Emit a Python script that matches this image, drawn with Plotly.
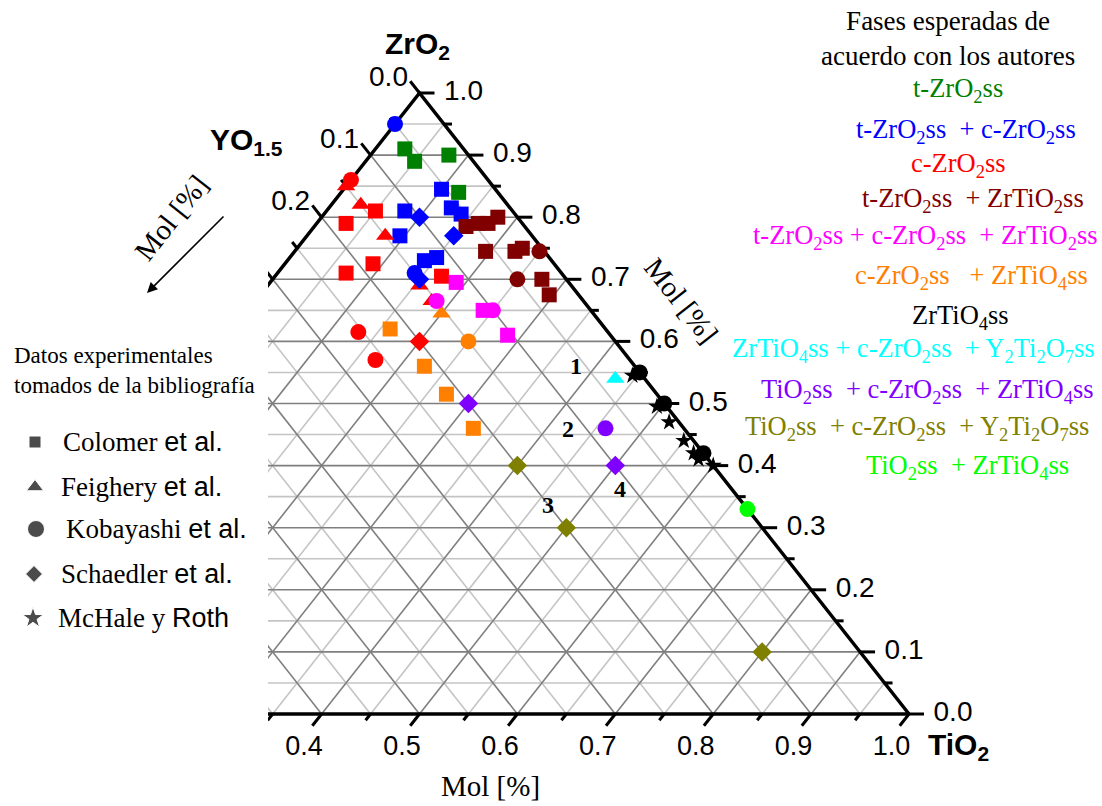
import numpy as np
import plotly.graph_objects as go

# ---------------- data: mole fractions (ZrO2, TiO2); YO1.5 = 1 - ZrO2 - TiO2 ----------------
# Colomer et al. (squares)
col_t_zr = [0.91, 0.89, 0.90, 0.84]
col_t_ti = [0.03, 0.05, 0.08, 0.12]
col_tc_zr = [0.845, 0.81, 0.77, 0.815, 0.805, 0.73, 0.735]
col_tc_ti = [0.10, 0.08, 0.095, 0.125, 0.14, 0.14, 0.15]
col_c_zr = [0.81, 0.79, 0.71, 0.725, 0.705]
col_c_ti = [0.05, 0.03, 0.07, 0.09, 0.17]
col_tzt_zr = [0.785, 0.79, 0.79, 0.80, 0.745, 0.745, 0.75, 0.70, 0.675]
col_tzt_ti = [0.155, 0.165, 0.175, 0.18, 0.195, 0.225, 0.23, 0.275, 0.295]
col_tczt_zr = [0.695, 0.65, 0.61]
col_tczt_ti = [0.19, 0.24, 0.285]
col_czt_zr = [0.62, 0.56, 0.515, 0.46]
col_czt_ti = [0.16, 0.225, 0.27, 0.325]

# Feighery et al. (triangles)
fei_c_zr = [0.85, 0.82, 0.77, 0.69, 0.665]
fei_c_ti = [0.0, 0.03, 0.08, 0.155, 0.18]
fei_czt_zr = [0.645]
fei_czt_ti = [0.20]
fei_zcy_zr = [0.54]
fei_zcy_ti = [0.43]

# Kobayashi et al. (circles)
kob_tc_zr = [0.95, 0.71]
kob_tc_ti = [0.0, 0.14]
kob_c_zr = [0.86, 0.615, 0.57]
kob_c_ti = [0.0, 0.13, 0.17]
kob_tzt_zr = [0.745, 0.70]
kob_tzt_ti = [0.25, 0.25]
kob_tczt_zr = [0.665, 0.65]
kob_tczt_ti = [0.185, 0.25]
kob_czt_zr = [0.60]
kob_czt_ti = [0.25]
kob_zt_zr = [0.55, 0.50, 0.42]
kob_zt_ti = [0.45, 0.50, 0.58]
kob_tcz_zr = [0.46]
kob_tcz_ti = [0.46]
kob_tz_zr = [0.33]
kob_tz_ti = [0.67]

# Schaedler et al. (diamonds)
sch_tc_zr = [0.80, 0.77, 0.70]
sch_tc_ti = [0.10, 0.15, 0.15]
sch_c_zr = [0.60]
sch_c_ti = [0.20]
sch_tcz_zr = [0.50, 0.40]
sch_tcz_ti = [0.30, 0.50]
sch_tcy_zr = [0.40, 0.30, 0.10]
sch_tcy_ti = [0.40, 0.50, 0.80]

# McHale y Roth (stars)
mch_zt_zr = [0.545, 0.495, 0.47, 0.44, 0.42, 0.41, 0.40]
mch_zt_ti = [0.445, 0.495, 0.52, 0.55, 0.57, 0.58, 0.60]

# axis ticks
major_vals = np.round(np.arange(0, 1.0001, 0.1), 2)
minor_vals = np.round(np.arange(0.05, 1.0, 0.1), 2)
tick_labels = [f"{v:.1f}" for v in major_vals]

# phase colours
C_T = "#008000"; C_TC = "#0000ff"; C_C = "#ff0000"; C_TZT = "#800000"
C_TCZT = "#ff00ff"; C_CZT = "#ff8000"; C_ZT = "#000000"; C_ZCY = "#00ffff"
C_TCZ = "#8000ff"; C_TCY = "#808000"; C_TZ = "#00ff00"

# ---------------- geometry of the drawing ----------------
W, H = 1102, 806
CX, BX = -70.0, 909.0          # pixel x of the YO1.5 and TiO2 corners
BASE_Y, APEX_Y = 714.0, 93.0   # pixel y of the base and of the ZrO2 apex
CLIP_X = 268.0                 # left edge of the diagram window
SPAN, HGT = BX - CX, BASE_Y - APEX_Y

SERIF = "Liberation Serif"
SANS = "Liberation Sans"


def to_xy(zr, ti):
    zr = np.asarray(zr, float)
    ti = np.asarray(ti, float)
    return ti + zr / 2.0, zr


def shift(x, y, dpx, dpy):
    """Offset a data point by a pixel displacement."""
    return x + dpx / SPAN, y - dpy / HGT


def px_of(x):
    return CX + SPAN * x


fig = go.Figure()

# ---------------- grid ----------------
def grid_segments(vals):
    xs, ys = [], []
    for v in vals:
        for (z0, t0), (z1, t1) in [((v, 0), (v, 1 - v)),          # constant ZrO2
                                   ((0, v), (1 - v, v)),          # constant TiO2
                                   ((0, 1 - v), (1 - v, 0))]:     # constant YO1.5
            x0, y0 = to_xy(z0, t0)
            x1, y1 = to_xy(z1, t1)
            xs += [float(x0), float(x1), None]
            ys += [float(y0), float(y1), None]
    return xs, ys


grid_minor = np.round(np.arange(0.05, 1.0, 0.1), 2)
grid_major = np.round(np.arange(0.1, 0.95, 0.1), 2)
for vals, col in [(grid_minor, "#c4c4c4"), (grid_major, "#7f7f7f")]:
    gx, gy = grid_segments(vals)
    fig.add_trace(go.Scatter(x=gx, y=gy, mode="lines", line=dict(color=col, width=1.6),
                             hoverinfo="skip", showlegend=False))

# ---------------- triangle frame ----------------
ex, ey = to_xy([0, 1, 0, 0], [0, 0, 1, 0])
fig.add_trace(go.Scatter(x=ex, y=ey, mode="lines", line=dict(color="black", width=3.5),
                         hoverinfo="skip", showlegend=False))

# ---------------- ticks ----------------
UL = (-0.619, -0.785)   # up-left, parallel to the right edge
DL = (-0.619, 0.785)    # down-left, parallel to the left edge
RT = (1.0, 0.0)


def tick_points(kind, v):
    if kind == "right":      # ZrO2 on the TiO2-ZrO2 edge
        return to_xy(v, 1 - v)
    if kind == "left":       # YO1.5 on the YO1.5-ZrO2 edge
        return to_xy(1 - v, 0)
    return to_xy(0, v)       # TiO2 on the base


tx, ty = [], []
for kind, d in [("right", RT), ("left", UL), ("bottom", DL)]:
    for vals, ln in [(major_vals, 15), (minor_vals, 8)]:
        for v in vals:
            x0, y0 = tick_points(kind, v)
            x1, y1 = shift(float(x0), float(y0), d[0] * ln, d[1] * ln)
            tx += [float(x0), x1, None]
            ty += [float(y0), y1, None]
fig.add_trace(go.Scatter(x=tx, y=ty, mode="lines", line=dict(color="black", width=3),
                         hoverinfo="skip", showlegend=False))

# tick labels (only those that fall inside the diagram window)
for kind, off, size in [("right", (44, 0), 28), ("left", (-31, -14), 28), ("bottom", (-17.5, 34), 27)]:
    lx, ly, lt = [], [], []
    for v, lab in zip(major_vals, tick_labels):
        x0, y0 = tick_points(kind, v)
        x1, y1 = shift(float(x0), float(y0), *off)
        if px_of(x1) - 21 < CLIP_X:
            continue
        lx.append(x1)
        ly.append(y1)
        lt.append(lab)
    fig.add_trace(go.Scatter(x=lx, y=ly, mode="text", text=lt,
                             textposition="middle center",
                             textfont=dict(family=SANS, size=size, color="black"),
                             hoverinfo="skip", showlegend=False))

# ---------------- experimental points ----------------
SQ, TR, CI, DI, ST = 15, 16, 16, 15, 13
groups = [
    # squares
    (col_t_zr, col_t_ti, "square", SQ, C_T),
    (col_tc_zr, col_tc_ti, "square", SQ, C_TC),
    (col_c_zr, col_c_ti, "square", SQ, C_C),
    (col_tzt_zr, col_tzt_ti, "square", SQ, C_TZT),
    (col_tczt_zr, col_tczt_ti, "square", SQ, C_TCZT),
    (col_czt_zr, col_czt_ti, "square", SQ, C_CZT),
    # triangles
    (fei_c_zr, fei_c_ti, "triangle-up", TR, C_C),
    (fei_czt_zr, fei_czt_ti, "triangle-up", TR, C_CZT),
    (fei_zcy_zr, fei_zcy_ti, "triangle-up", TR, C_ZCY),
    # circles
    (kob_tc_zr, kob_tc_ti, "circle", CI, C_TC),
    (kob_c_zr, kob_c_ti, "circle", CI, C_C),
    (kob_tzt_zr, kob_tzt_ti, "circle", CI, C_TZT),
    (kob_tczt_zr, kob_tczt_ti, "circle", CI, C_TCZT),
    (kob_czt_zr, kob_czt_ti, "circle", CI, C_CZT),
    (kob_zt_zr, kob_zt_ti, "circle", CI, C_ZT),
    (kob_tcz_zr, kob_tcz_ti, "circle", CI, C_TCZ),
    (kob_tz_zr, kob_tz_ti, "circle", CI, C_TZ),
    # diamonds
    (sch_tc_zr, sch_tc_ti, "diamond", DI, C_TC),
    (sch_c_zr, sch_c_ti, "diamond", DI, C_C),
    (sch_tcz_zr, sch_tcz_ti, "diamond", DI, C_TCZ),
    (sch_tcy_zr, sch_tcy_ti, "diamond", DI, C_TCY),
    # stars
    (mch_zt_zr, mch_zt_ti, "star", ST, C_ZT),
]
for zr, ti, sym, size, col in groups:
    x, y = to_xy(zr, ti)
    fig.add_trace(go.Scatter(x=x, y=y, mode="markers",
                             marker=dict(symbol=sym, size=size, color=col, line=dict(width=0)),
                             showlegend=False, hoverinfo="skip"))

# ---------------- legend of sources (left) ----------------
key_rows = [442, 487, 529, 574, 618]
key_symbols = ["square", "triangle-up", "circle", "diamond", "star"]
key_sizes = [12, 15, 17, 13, 16]
fig.add_trace(go.Scatter(x=[35, 35, 36, 34, 33], y=key_rows, mode="markers",
                         marker=dict(symbol=key_symbols, size=key_sizes, color="black"),
                         xaxis="x2", yaxis="y2", showlegend=False, hoverinfo="skip"))


def note(px, py, text, size, family=SERIF, color="black", angle=0, xanchor="center",
         align="center"):
    fig.add_annotation(x=px / W, y=1 - py / H, xref="paper", yref="paper", text=text,
                       showarrow=False, font=dict(family=family, size=size, color=color),
                       textangle=angle, xanchor=xanchor, yanchor="middle", align=align)


note(12, 370, "Datos experimentales<br>tomados de la bibliografía", 23, xanchor="left",
     align="left")
ETAL = f"<span style='font-family:{SANS}'>et al.</span>"
note(61, 442, f"Colomer {ETAL}", 27, xanchor="left")
note(59, 487, f"Feighery {ETAL}", 27, xanchor="left")
note(64, 529, f"Kobayashi {ETAL}", 27, xanchor="left")
note(59, 574, f"Schaedler {ETAL}", 27, xanchor="left")
note(56, 618, f"McHale y <span style='font-family:{SANS}'>Roth</span>", 27, xanchor="left")

# ---------------- expected phases (right) ----------------
note(948, 39, "Fases esperadas de<br>acuerdo con los autores", 27)
phase_lines = [
    (958, 90, "t-ZrO<sub>2</sub>ss", C_T),
    (966, 131, "t-ZrO<sub>2</sub>ss  + c-ZrO<sub>2</sub>ss", C_TC),
    (958, 165, "c-ZrO<sub>2</sub>ss", C_C),
    (973, 200, "t-ZrO<sub>2</sub>ss  + ZrTiO<sub>2</sub>ss", C_TZT),
    (925, 237, "t-ZrO<sub>2</sub>ss + c-ZrO<sub>2</sub>ss  + ZrTiO<sub>2</sub>ss", C_TCZT),
    (971, 277, "c-ZrO<sub>2</sub>ss   + ZrTiO<sub>4</sub>ss", C_CZT),
    (960, 317, "ZrTiO<sub>4</sub>ss", C_ZT),
    (913, 350, "ZrTiO<sub>4</sub>ss + c-ZrO<sub>2</sub>ss  + Y<sub>2</sub>Ti<sub>2</sub>O<sub>7</sub>ss", C_ZCY),
    (927, 391, "TiO<sub>2</sub>ss  + c-ZrO<sub>2</sub>ss  + ZrTiO<sub>4</sub>ss", C_TCZ),
    (917, 428, "TiO<sub>2</sub>ss  + c-ZrO<sub>2</sub>ss  + Y<sub>2</sub>Ti<sub>2</sub>O<sub>7</sub>ss", C_TCY),
    (967, 467, "TiO<sub>2</sub>ss  + ZrTiO<sub>4</sub>ss", C_TZ),
]
for px, py, txt, col in phase_lines:
    note(px, py, txt, 26.5, color=col)

# ---------------- axis titles and region numbers ----------------
note(417, 45, "<b>ZrO<sub>2</sub></b>", 30, family=SANS)
note(246, 141, "<b>YO<sub>1.5</sub></b>", 30, family=SANS)
note(958, 746, "<b>TiO<sub>2</sub></b>", 30, family=SANS)
note(490, 786, "Mol [%]", 29)
note(681, 300, "Mol [%]", 29, angle=51.8)
note(171, 218, "Mol [%]", 29, angle=-51.8)
fig.add_annotation(x=147 / W, y=1 - 293 / H, xref="paper", yref="paper", text="",
                   showarrow=True, ax=78, ay=-78, arrowhead=2, arrowsize=1.3,
                   arrowwidth=1.6, arrowcolor="black")
for px, py, lab in [(576, 366, "1"), (568, 429, "2"), (548, 505, "3"), (620, 489, "4")]:
    note(px, py, f"<b>{lab}</b>", 24)

fig.update_layout(
    width=W, height=H, autosize=False,
    margin=dict(l=0, r=0, t=0, b=0, pad=0),
    plot_bgcolor="white", paper_bgcolor="white", showlegend=False,
    xaxis=dict(domain=[CLIP_X / W, 1], range=[(CLIP_X - CX) / SPAN, (W - CX) / SPAN],
               visible=False, fixedrange=True),
    yaxis=dict(domain=[0, 1], range=[(BASE_Y - H) / HGT, BASE_Y / HGT],
               visible=False, fixedrange=True),
    xaxis2=dict(domain=[0, CLIP_X / W], range=[0, CLIP_X], visible=False, anchor="y2"),
    yaxis2=dict(domain=[0, 1], range=[H, 0], visible=False, anchor="x2"),
)

fig.write_html("out.html")
